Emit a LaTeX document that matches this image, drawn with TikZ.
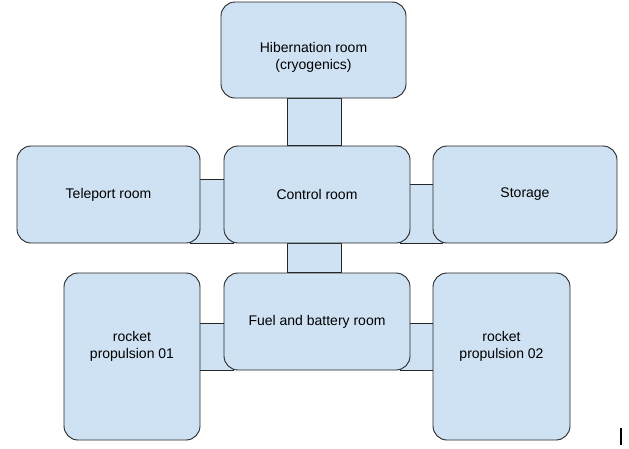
\documentclass[tikz,border=0pt]{standalone}
\usepackage{fontspec}
\setmainfont{Liberation Sans}
\usetikzlibrary{backgrounds}

\newlength{\du}
\setlength{\du}{1pt}
\definecolor{roomblue}{rgb}{0.812, 0.886, 0.953}
\definecolor{edgegrey}{rgb}{0.15, 0.15, 0.15}

\tikzset{
  room/.style={draw=edgegrey, fill=roomblue, line width=0.9\du, rounded corners=14\du,
    align=center, inner sep=0pt, font=\fontsize{14}{17}\selectfont},
  corridor/.style={draw=edgegrey, fill=roomblue, line width=0.9\du},
}

\begin{document}
\begin{tikzpicture}[x=1\du, y=-1\du]
\useasboundingbox (0,0) rectangle (629,448);
% rooms
\node[room, minimum width=185\du, minimum height=96\du] (hib) at (313.5,50) {\rule{0pt}{25\du}Hibernation room\\(cryogenics)};
\node[room, minimum width=186\du, minimum height=97\du] (ctrl) at (317,194.5) {Control room};
\node[room, minimum width=183\du, minimum height=97\du] (tele) at (108.5,194.5) {Teleport room};
\node[room, minimum width=184\du, minimum height=97\du] (store) at (525,194.5) {Storage};
\node[room, minimum width=186\du, minimum height=97\du] (fuel) at (317,321.5) {Fuel and battery room};
\node[room, minimum width=136\du, minimum height=167\du] (rock1) at (132,356.5) {rocket\\propulsion 01\\[6\du]\mbox{}};
\node[room, minimum width=137\du, minimum height=167\du] (rock2) at (501.5,356.5) {rocket\\propulsion 02\\[6\du]\mbox{}};
% corridors behind the rooms
\begin{scope}[on background layer]
\draw[corridor] ([xshift=-26.5\du]hib.south) rectangle ([xshift=24\du]ctrl.north);
\draw[corridor] ([xshift=-10\du,yshift=15.5\du]tele.east) rectangle ([xshift=10\du]ctrl.south west);
\draw[corridor] ([xshift=-10\du,yshift=10.5\du]ctrl.east) rectangle ([xshift=10\du]store.south west);
\draw[corridor] ([xshift=-30\du]ctrl.south) rectangle ([xshift=24\du]fuel.north);
\draw[corridor] ([xshift=-10\du,yshift=33.5\du]rock1.east) rectangle ([xshift=10\du]fuel.south west);
\draw[corridor] ([xshift=-10\du,yshift=-1.5\du]fuel.east) rectangle ([xshift=10\du,yshift=-13.5\du]rock2.west);
\end{scope}
% text cursor
\coordinate (cur1) at (621,428);
\coordinate (cur2) at (621,445);
\draw[line width=1.6\du] (cur1) -- (cur2);
\end{tikzpicture}
\end{document}
